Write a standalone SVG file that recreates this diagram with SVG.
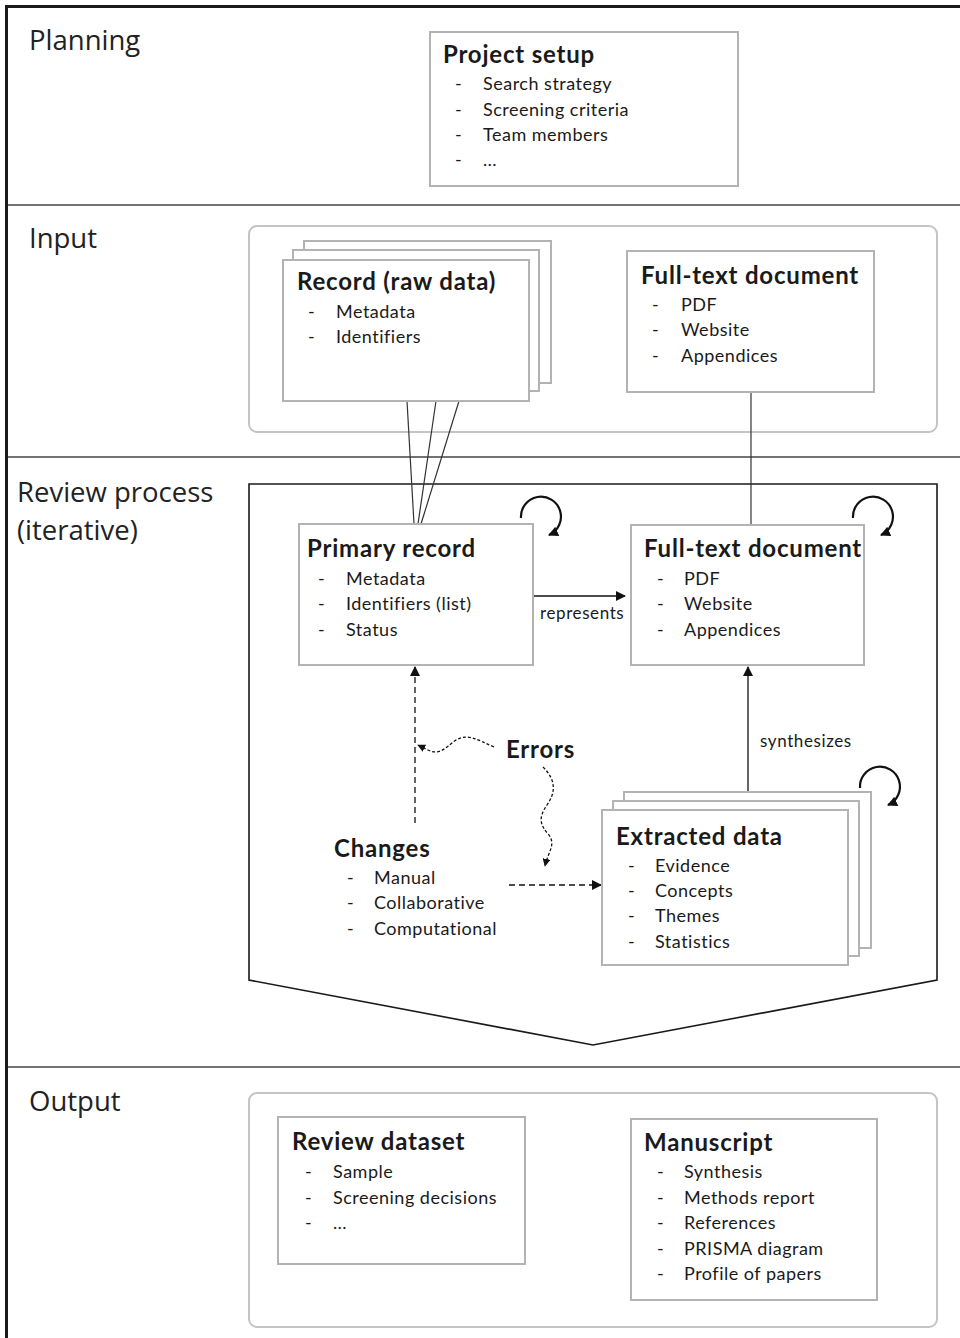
<svg xmlns="http://www.w3.org/2000/svg" width="960" height="1338" viewBox="0 0 960 1338">
<defs>
<marker id="ah" viewBox="0 0 10 10" refX="9" refY="5" markerWidth="10" markerHeight="10" markerUnits="userSpaceOnUse" orient="auto">
<path d="M0,0 L10,5 L0,10 z" fill="#111"/>
</marker>
<marker id="ahs" viewBox="0 0 10 10" refX="9" refY="5" markerWidth="8" markerHeight="8" markerUnits="userSpaceOnUse" orient="auto">
<path d="M0,0 L10,5 L0,10 z" fill="#111"/>
</marker>
</defs>
<style>
.sec{font-family:"Open Sans","Liberation Sans",sans-serif;font-size:27.5px;fill:#222}
.box{fill:#fff;stroke:#b3b3b3;stroke-width:2}
.cont{fill:none;stroke:#c4c4c4;stroke-width:2}
.sep{stroke:#444;stroke-width:1.5}
.t{font-family:Lato,"Liberation Sans",sans-serif;font-weight:bold;font-size:24px;letter-spacing:0.8px;fill:#1a1a1a}
.i{font-family:Lato,"Liberation Sans",sans-serif;font-size:18px;letter-spacing:0.5px;fill:#1a1a1a}
.lbl{font-family:Lato,"Liberation Sans",sans-serif;font-size:17px;letter-spacing:0.6px;fill:#1a1a1a}
.ln{stroke:#333;stroke-width:1.2;fill:none}
.ar{stroke:#111;stroke-width:1.3;fill:none}
.loop{stroke:#111;stroke-width:2.2;fill:none}
</style>
<rect width="960" height="1338" fill="#fff"/>

<g id="frame">
<line x1="6.5" y1="5" x2="6.5" y2="1338" stroke="#1a1a1a" stroke-width="3"/>
<line x1="5" y1="6.5" x2="960" y2="6.5" stroke="#1a1a1a" stroke-width="3"/>
<line class="sep" x1="8" y1="205" x2="960" y2="205"/>
<line class="sep" x1="8" y1="457" x2="960" y2="457"/>
<line class="sep" x1="8" y1="1067" x2="960" y2="1067"/>
</g>

<g id="section-labels">
<text class="sec" x="29" y="50">Planning</text>
<text class="sec" x="29" y="248">Input</text>
<text class="sec" x="17" y="502">Review process</text>
<text class="sec" x="17" y="540">(iterative)</text>
<text class="sec" x="29" y="1111">Output</text>
</g>

<g id="containers">
<rect class="cont" x="249" y="226" width="688" height="206" rx="8"/>
<path d="M249,484 L937,484 L937,980 L593,1045 L249,980 Z" fill="none" stroke="#1a1a1a" stroke-width="1.6"/>
<rect class="cont" x="249" y="1093" width="688" height="234" rx="8"/>
</g>

<g id="connectors">
<line class="ln" x1="407" y1="401" x2="414" y2="524"/>
<line class="ln" x1="436" y1="401" x2="418" y2="524"/>
<line class="ln" x1="459" y1="401" x2="421" y2="524"/>
<line class="ln" x1="751" y1="392" x2="751" y2="525"/>
<line class="ar" x1="534" y1="596" x2="625" y2="596" marker-end="url(#ah)"/>
<text class="lbl" x="540" y="619">represents</text>
<line class="ar" x1="748" y1="792" x2="748" y2="667" marker-end="url(#ah)"/>
<text class="lbl" x="760" y="747">synthesizes</text>
<line class="ar" x1="415" y1="823" x2="415" y2="667" stroke-dasharray="6 4" marker-end="url(#ah)"/>
<line class="ar" x1="509" y1="885" x2="601" y2="885" stroke-dasharray="6 4" marker-end="url(#ah)"/>
<path class="ar" d="M494,747 C478,740 468,733 456,740 C446,747 440,756 428,750 L418,745" stroke-width="1" stroke-dasharray="3 2" marker-end="url(#ahs)"/>
<path class="ar" d="M543,767 C556,780 556,792 547,805 C538,818 540,825 549,835 C556,845 548,852 545,866" stroke-width="1" stroke-dasharray="3 2" marker-end="url(#ahs)"/>
<path class="loop" d="M521,518 A20,20 0 1 1 549,535" marker-end="url(#ah)"/>
<path class="loop" d="M853,518 A20,20 0 1 1 881,535" marker-end="url(#ah)"/>
<path class="loop" d="M860,788 A20,20 0 1 1 888,805" marker-end="url(#ah)"/>
</g>

<g id="project-setup">
<rect class="box" x="430" y="32" width="308" height="154"/>
<text class="t" x="443" y="63">Project setup</text>
<text class="i"><tspan x="455" y="90">-</tspan><tspan x="483" y="90">Search strategy</tspan><tspan x="455" y="116">-</tspan><tspan x="483" y="116">Screening criteria</tspan><tspan x="455" y="141">-</tspan><tspan x="483" y="141">Team members</tspan><tspan x="455" y="166">-</tspan><tspan x="483" y="166">…</tspan></text>
</g>

<g id="record-raw">
<rect class="box" x="304" y="241" width="247" height="142"/>
<rect class="box" x="293" y="250" width="246" height="141"/>
<rect class="box" x="283" y="260" width="246" height="141"/>
<text class="t" x="297" y="290">Record (raw data)</text>
<text class="i"><tspan x="308" y="318">-</tspan><tspan x="336" y="318">Metadata</tspan><tspan x="308" y="343">-</tspan><tspan x="336" y="343">Identifiers</tspan></text>
</g>

<g id="fulltext-input">
<rect class="box" x="627" y="251" width="247" height="141"/>
<text class="t" x="641" y="284">Full-text document</text>
<text class="i"><tspan x="652" y="311">-</tspan><tspan x="681" y="311">PDF</tspan><tspan x="652" y="336">-</tspan><tspan x="681" y="336">Website</tspan><tspan x="652" y="362">-</tspan><tspan x="681" y="362">Appendices</tspan></text>
</g>

<g id="primary-record">
<rect class="box" x="299" y="524" width="234" height="141"/>
<text class="t" x="307" y="557">Primary record</text>
<text class="i"><tspan x="318" y="585">-</tspan><tspan x="346" y="585">Metadata</tspan><tspan x="318" y="610">-</tspan><tspan x="346" y="610">Identifiers (list)</tspan><tspan x="318" y="636">-</tspan><tspan x="346" y="636">Status</tspan></text>
</g>

<g id="fulltext-review">
<rect class="box" x="631" y="525" width="233" height="140"/>
<text class="t" x="644" y="557">Full-text document</text>
<text class="i"><tspan x="657" y="585">-</tspan><tspan x="684" y="585">PDF</tspan><tspan x="657" y="610">-</tspan><tspan x="684" y="610">Website</tspan><tspan x="657" y="636">-</tspan><tspan x="684" y="636">Appendices</tspan></text>
</g>

<g id="errors">
<text class="t" x="506" y="758">Errors</text>
</g>

<g id="changes">
<text class="t" x="334" y="857">Changes</text>
<text class="i"><tspan x="347" y="884">-</tspan><tspan x="374" y="884">Manual</tspan><tspan x="347" y="909">-</tspan><tspan x="374" y="909">Collaborative</tspan><tspan x="347" y="935">-</tspan><tspan x="374" y="935">Computational</tspan></text>
</g>

<g id="extracted-data">
<rect class="box" x="624" y="792" width="247" height="156"/>
<rect class="box" x="613" y="801" width="246" height="155"/>
<rect class="box" x="602" y="810" width="246" height="155"/>
<text class="t" x="616" y="845">Extracted data</text>
<text class="i"><tspan x="628" y="872">-</tspan><tspan x="655" y="872">Evidence</tspan><tspan x="628" y="897">-</tspan><tspan x="655" y="897">Concepts</tspan><tspan x="628" y="922">-</tspan><tspan x="655" y="922">Themes</tspan><tspan x="628" y="948">-</tspan><tspan x="655" y="948">Statistics</tspan></text>
</g>

<g id="review-dataset">
<rect class="box" x="278" y="1117" width="247" height="147"/>
<text class="t" x="292" y="1150">Review dataset</text>
<text class="i"><tspan x="305" y="1178">-</tspan><tspan x="333" y="1178">Sample</tspan><tspan x="305" y="1204">-</tspan><tspan x="333" y="1204">Screening decisions</tspan><tspan x="305" y="1229">-</tspan><tspan x="333" y="1229">…</tspan></text>
</g>

<g id="manuscript">
<rect class="box" x="631" y="1119" width="246" height="181"/>
<text class="t" x="644" y="1151">Manuscript</text>
<text class="i"><tspan x="657" y="1178">-</tspan><tspan x="684" y="1178">Synthesis</tspan><tspan x="657" y="1204">-</tspan><tspan x="684" y="1204">Methods report</tspan><tspan x="657" y="1229">-</tspan><tspan x="684" y="1229">References</tspan><tspan x="657" y="1255">-</tspan><tspan x="684" y="1255">PRISMA diagram</tspan><tspan x="657" y="1280">-</tspan><tspan x="684" y="1280">Profile of papers</tspan></text>
</g>
</svg>
